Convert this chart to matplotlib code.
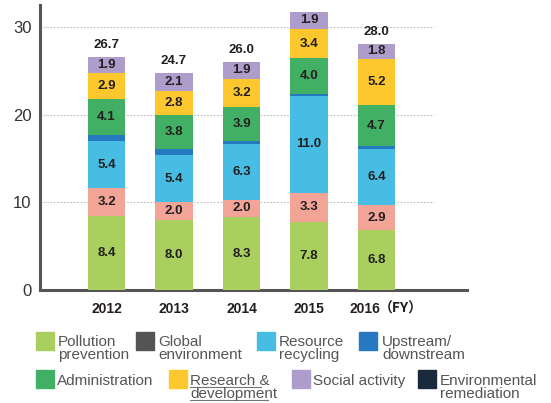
import numpy as np
import matplotlib.pyplot as plt
from matplotlib.patches import Rectangle
from matplotlib.lines import Line2D
from matplotlib.transforms import ScaledTranslation

# data (billion yen)
years = ["2012", "2013", "2014", "2015", "2016"]
pollution = [8.4, 8.0, 8.3, 7.8, 6.8]
global_env = [3.2, 2.0, 2.0, 3.3, 2.9]
recycling = [5.4, 5.4, 6.3, 11.0, 6.4]
upstream = [0.7, 0.7, 0.4, 0.3, 0.3]
admin = [4.1, 3.8, 3.9, 4.0, 4.7]
research = [2.9, 2.8, 3.2, 3.4, 5.2]
social = [1.9, 2.1, 1.9, 1.9, 1.8]
remediation = [0.0, 0.0, 0.0, 0.0, 0.0]
totals = [26.7, 24.7, 26.0, None, 28.0]

series = [
    (pollution, "#a9cf5e"),
    (global_env, "#f2a497"),
    (recycling, "#48bde3"),
    (upstream, "#2479c1"),
    (admin, "#42b064"),
    (research, "#fcc82e"),
    (social, "#ae9ccb"),
    (remediation, "#1a2a3a"),
]

bold_font = ["Liberation Sans", "DejaVu Sans"]
txt_dark = "#231f20"

fig = plt.figure(figsize=(5.51, 4.03), dpi=100)
ax = fig.add_axes([0.0726, 0.2804, 0.775, 0.7072])

x = np.arange(len(years))
bottom = np.zeros(len(years))
for vals, color in series:
    vals = np.array(vals)
    ax.bar(x, vals, width=0.55, bottom=bottom, color=color, zorder=3)
    for i, v in enumerate(vals):
        if v >= 1:
            ax.text(x[i], bottom[i] + v / 2, f"{v:.1f}", ha="center", va="center",
                    fontsize=9.5, fontweight="bold", color=txt_dark,
                    family=bold_font, zorder=4)
    bottom += vals

for i, t in enumerate(totals):
    if t is not None:
        ax.annotate(f"{t:.1f}", (x[i], bottom[i]), xytext=(0, 4),
                    textcoords="offset points", ha="center", va="bottom",
                    fontsize=9.5, fontweight="bold", color=txt_dark,
                    family=bold_font)

ax.set_xlim(-0.985, 5.34)
ax.set_ylim(0, 32.5)

# dotted grid lines, stopping short of the axis end
for yv in [10, 20, 30]:
    ax.plot([-0.985, 4.85], [yv, yv], color="#bbbbbb", linestyle=(0, (1.5, 1.5)),
            linewidth=0.8, zorder=1)

ax.set_yticks([0, 10, 20, 30])
ax.set_yticklabels(["0", "10", "20", "30"], fontsize=12, color="#333333",
                   family=["Liberation Sans", "DejaVu Sans"])
ax.set_xticks(x)
ax.set_xticklabels(years, fontsize=10, fontweight="bold", color=txt_dark,
                   family=bold_font)
ax.tick_params(length=0)
ax.tick_params(axis="x", pad=9)
ax.tick_params(axis="y", pad=6)

# last year label sits left of its bar, followed by (FY)
last = ax.get_xticklabels()[-1]
last.set_ha("right")
last.set_transform(last.get_transform() + ScaledTranslation(4 / 100, 0, fig.dpi_scale_trans))

W, H = 551.0, 403.0
fig.text(379 / W, 1 - 313 / H, "（FY）", fontsize=10, fontweight="bold", color=txt_dark,
         family=["Noto Sans CJK JP", "DejaVu Sans"], ha="left", va="baseline")

for s in ["top", "right"]:
    ax.spines[s].set_visible(False)
for s in ["left", "bottom"]:
    ax.spines[s].set_color("#555555")
    ax.spines[s].set_linewidth(2.2)

# hand-made legend, two rows: (square left, text left, colour, lines)
legend_rows = [
    [(36, 58, "#a9cf5e", ["Pollution", "prevention"]),
     (136, 158, "#545454", ["Global", "environment"]),
     (257, 279, "#48bde3", ["Resource", "recycling"]),
     (359, 382, "#2479c1", ["Upstream/", "downstream"])],
    [(36, 57, "#42b064", ["Administration"]),
     (169, 190, "#fcc82e", ["Research &", "development"]),
     (292, 313, "#ae9ccb", ["Social activity"]),
     (418, 440, "#1a2a3a", ["Environmental", "remediation"])],
]
sq = 18
row_tops = [332, 370]
row_base = [346, 385]
for r, row in enumerate(legend_rows):
    for sx, tx, color, lines in row:
        fig.patches.append(Rectangle((sx / W, 1 - (row_tops[r] + sq) / H), sq / W, sq / H,
                                     transform=fig.transFigure, color=color))
        for k, line in enumerate(lines):
            fig.text(tx / W, 1 - (row_base[r] + 13 * k) / H, line, ha="left",
                     va="baseline", fontsize=11, color="#555555",
                     family=["Liberation Sans", "DejaVu Sans"])

# underline on "Research & development"
for y0, x0, x1 in [(387, 190, 261), (400, 190, 268)]:
    fig.add_artist(Line2D([x0 / W, x1 / W], [1 - y0 / H, 1 - y0 / H],
                          transform=fig.transFigure, color="#777777", linewidth=0.8))

fig.savefig("out.png", dpi=100)
